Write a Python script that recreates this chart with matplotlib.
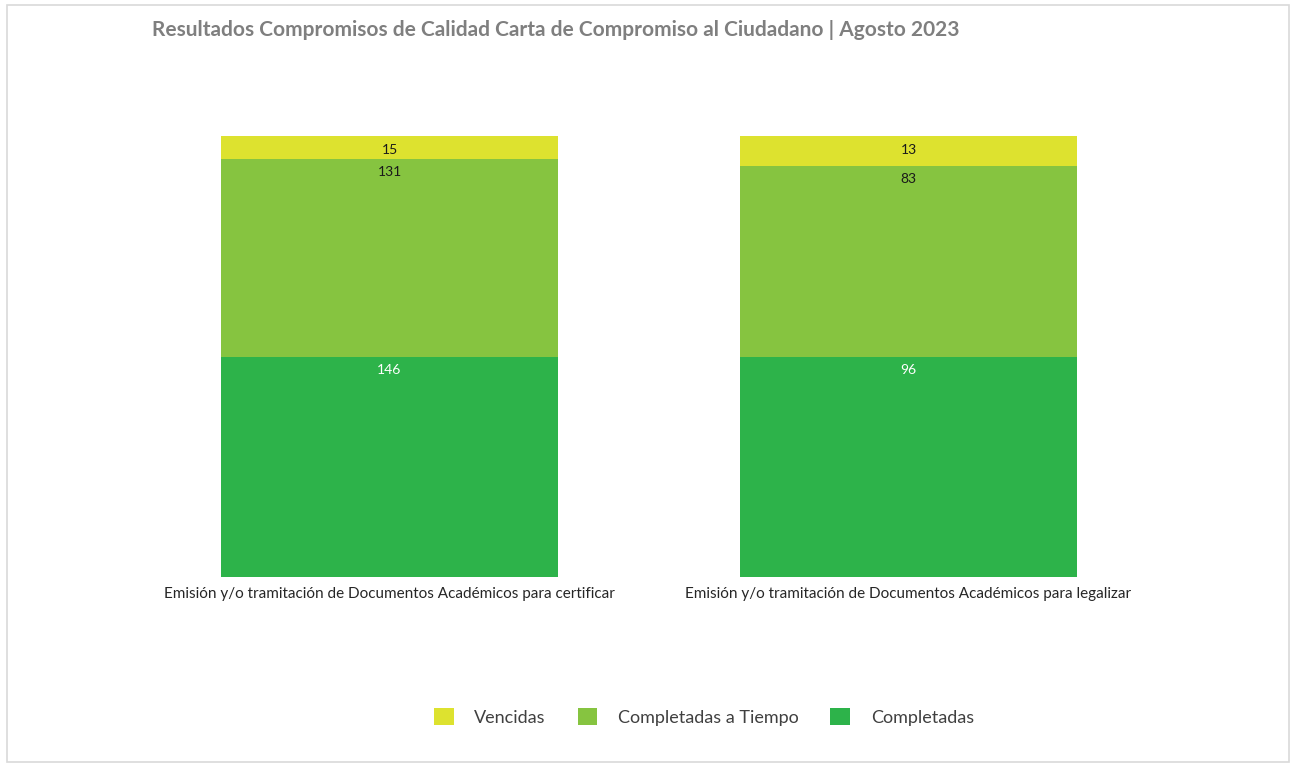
import matplotlib
matplotlib.use("Agg")
import matplotlib.pyplot as plt
from matplotlib.patches import Rectangle, Patch
import numpy as np

categories = [
    "Emisión y/o tramitación de Documentos Académicos para certificar",
    "Emisión y/o tramitación de Documentos Académicos para legalizar",
]
series_names = ["Completadas", "Completadas a Tiempo", "Vencidas"]
completadas = [146, 96]
completadas_tiempo = [131, 83]
vencidas = [15, 13]
colors = {"Completadas": "#2DB34A", "Completadas a Tiempo": "#86C440", "Vencidas": "#DDE22F"}
label_colors = {"Completadas": "white", "Completadas a Tiempo": "#1a1a1a", "Vencidas": "#1a1a1a"}
title = "Resultados Compromisos de Calidad Carta de Compromiso al Ciudadano | Agosto 2023"

plt.rcParams['font.family'] = ['Lato', 'DejaVu Sans']

fig = plt.figure(figsize=(12.94, 7.65), dpi=100)
ax = fig.add_axes([130 / 1294, 1 - 577 / 765, (1168 - 130) / 1294, (577 - 136) / 765])

data = {"Completadas": completadas, "Completadas a Tiempo": completadas_tiempo, "Vencidas": vencidas}
totals = np.array(completadas) + np.array(completadas_tiempo) + np.array(vencidas)
x = np.arange(len(categories))
bottom = np.zeros(len(categories))
for name in series_names:
    vals = np.array(data[name], dtype=float)
    pct = vals / totals * 100
    ax.bar(x, pct, bottom=bottom, width=0.648, color=colors[name], linewidth=0)
    for xi, b, p, v in zip(x, bottom, pct, data[name]):
        ax.annotate(str(v), xy=(xi, b + p), xytext=(0, -5.5), textcoords="offset points",
                    ha="center", va="top", fontsize=10, color=label_colors[name])
    bottom = bottom + pct

ax.set_xlim(-0.5, 1.5)
ax.set_ylim(0, 100)
ax.set_yticks([])
ax.set_xticks(x)
ax.set_xticklabels(categories, fontsize=11, color="#262626")
ax.tick_params(axis="x", length=0, pad=7)
for s in ax.spines.values():
    s.set_visible(False)

fig.text(152 / 1294, 1 - 30 / 765, title, fontsize=15, fontweight="bold", color="#7F7F7F",
         ha="left", va="center")

handles = [Patch(facecolor=colors[n], edgecolor="none") for n in ["Vencidas", "Completadas a Tiempo", "Completadas"]]
fig.legend(handles, ["Vencidas", "Completadas a Tiempo", "Completadas"], loc="center",
           bbox_to_anchor=(704 / 1294, 1 - 717 / 765), ncol=3, frameon=False,
           fontsize=13, handlelength=1.1, handleheight=1.1, columnspacing=1.75, handletextpad=1.15,
           labelcolor="#404040")

fig.patches.append(Rectangle((7 / 1294, 3 / 765), 1282 / 1294, 757 / 765, transform=fig.transFigure,
                             fill=False, edgecolor="#D9D9D9", linewidth=1.2))

fig.savefig("out.png", dpi=100, facecolor="white")
